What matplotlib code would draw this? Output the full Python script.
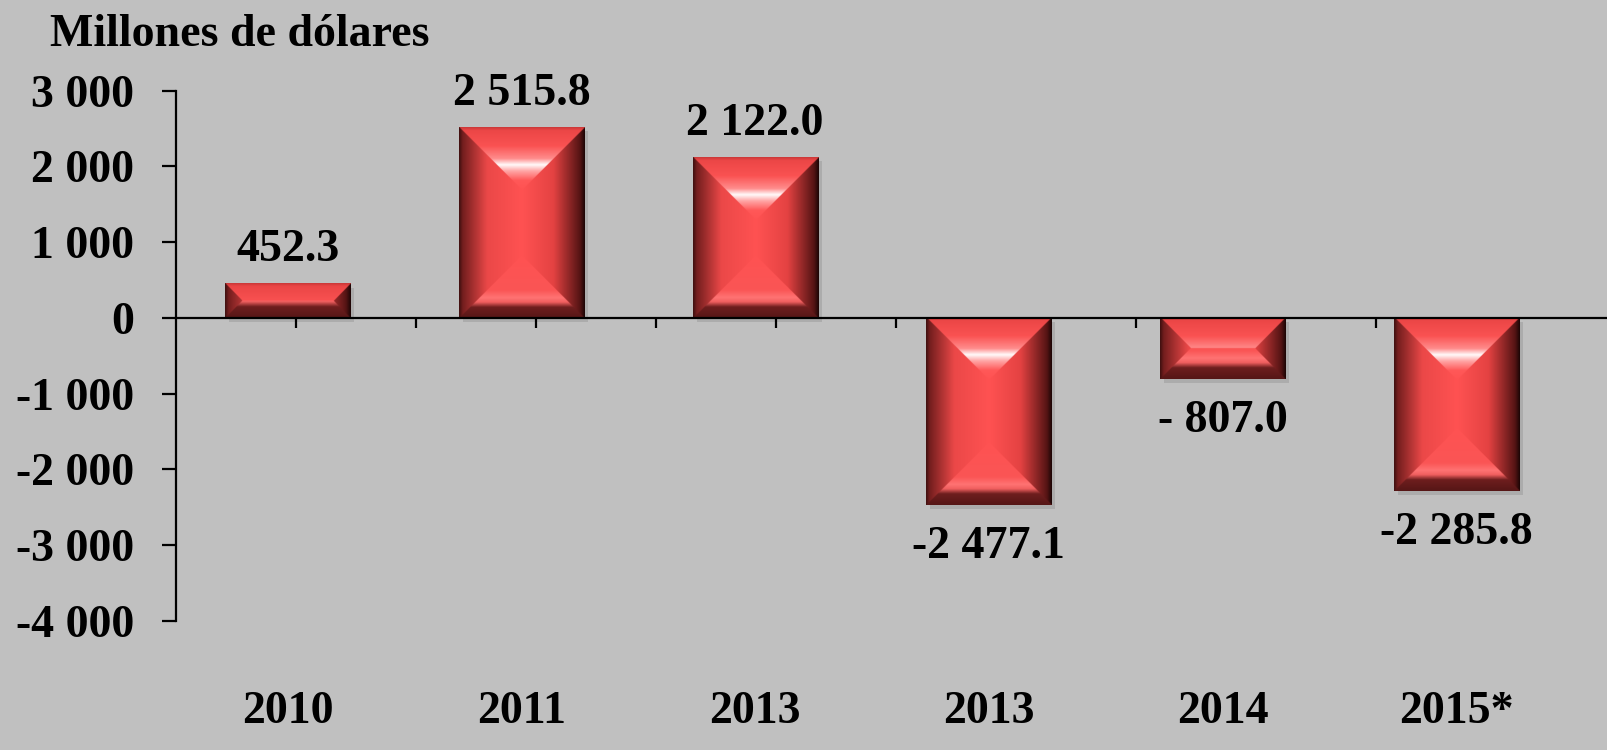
import numpy as np
import matplotlib
matplotlib.use("Agg")
import matplotlib.pyplot as plt
from matplotlib.transforms import blended_transform_factory
from matplotlib.patches import Rectangle

# datos
categorias = ["2010", "2011", "2013", "2013", "2014", "2015*"]
valores = [452.3, 2515.8, 2122.0, -2477.1, -807.0, -2285.8]
etiquetas = ["452.3", "2 515.8", "2 122.0", "-2 477.1", "- 807.0", "-2 285.8"]
yticks = [3000, 2000, 1000, 0, -1000, -2000, -3000, -4000]
yticklabels = ["3 000", "2 000", "1 000", "0", "-1 000", "-2 000", "-3 000", "-4 000"]

plt.rcParams["font.family"] = ["Liberation Serif", "DejaVu Serif"]
plt.rcParams["font.weight"] = "bold"
FS = 33
FONDO = "#c0c0c0"

fig = plt.figure(figsize=(16.08, 7.5), dpi=100, facecolor=FONDO)
ax = fig.add_axes([176 / 1608, 1 - 620.7 / 750, 1 - 176 / 1608, 530 / 750])
ax.set_facecolor(FONDO)
ax.set_xlim(-0.477, 5.648)
ax.set_ylim(-4000, 3000)


def rampa(t, puntos, colores):
    colores = np.array(colores, dtype=float) / 255.0
    return np.stack([np.interp(t, puntos, colores[:, k]) for k in range(3)], axis=-1)


def barra_biselada(ax, x0, x1, y0, y1):
    # tamaño en pixeles
    p0 = ax.transData.transform((x0, y0))
    p1 = ax.transData.transform((x1, y1))
    pw = abs(p1[0] - p0[0])
    ph = abs(p1[1] - p0[1])
    esc = 2
    nw, nh = max(int(pw * esc), 2), max(int(ph * esc), 2)
    xs = (np.arange(nw) + 0.5) / esc
    ys = (np.arange(nh) + 0.5) / esc
    X, Y = np.meshgrid(xs, ys)
    dl, dr, dt, db = X, pw - X, Y, ph - Y
    b = pw / 2.0
    dist = np.stack([dl, dr, dt, db])
    cara = np.argmin(dist, axis=0)

    izq = rampa(dl / b, [0, 0.06, 0.45, 1], [(60, 15, 15), (115, 30, 30), (235, 72, 72), (255, 82, 82)])
    der = rampa(dr / b, [0, 0.08, 0.5, 1], [(25, 5, 5), (85, 20, 20), (228, 66, 66), (255, 82, 82)])
    arr = rampa(dt / b, [0, 0.05, 0.3, 0.5, 0.6, 0.7, 0.85, 1],
                [(200, 55, 55), (235, 70, 70), (250, 82, 82), (255, 140, 140),
                 (255, 250, 250), (255, 165, 165), (255, 88, 88), (255, 82, 82)])
    aba = rampa(db / b, [0, 0.18, 0.26, 0.33, 0.45, 1],
                [(85, 22, 22), (110, 30, 30), (240, 95, 95), (255, 115, 115), (250, 85, 85), (255, 82, 82)])
    img = np.where((cara == 0)[..., None], izq,
          np.where((cara == 1)[..., None], der,
          np.where((cara == 2)[..., None], arr, aba)))

    # sombra
    dx = 4 * (x1 - x0) / pw
    dy = 4 * (y1 - y0) / ph
    ax.add_patch(Rectangle((x0 + dx, y0 - dy), x1 - x0, y1 - y0, facecolor="#999999",
                           edgecolor="none", alpha=0.5, zorder=1))
    ax.imshow(img, extent=(x0, x1, y0, y1), origin="upper", aspect="auto",
              interpolation="bilinear", zorder=2)


ancho = 0.535
for i, v in enumerate(valores):
    barra_biselada(ax, i - ancho / 2, i + ancho / 2, min(v, 0), max(v, 0))
    if v >= 0:
        ax.annotate(etiquetas[i], (i, v), xytext=(0, 24), textcoords="offset points",
                    ha="center", va="center", fontsize=FS, fontweight="bold")
    else:
        ax.annotate(etiquetas[i], (i, v), xytext=(0, -30), textcoords="offset points",
                    ha="center", va="center", fontsize=FS, fontweight="bold")

ax.set_xlim(-0.477, 5.648)
ax.set_ylim(-4000, 3000)

# ejes
for s in ["top", "right"]:
    ax.spines[s].set_visible(False)
ax.spines["bottom"].set_position(("data", 0))
ax.spines["left"].set_linewidth(1.6)
ax.spines["bottom"].set_linewidth(1.6)
ax.spines["left"].set_zorder(3)
ax.spines["bottom"].set_zorder(3)

ax.set_yticks(yticks)
ax.set_yticklabels(yticklabels, fontsize=FS, fontweight="bold")
ax.tick_params(axis="y", direction="out", length=10, width=1.6, pad=20)
ax.set_xticks(0.035 + 0.5133 * np.arange(11))
ax.set_xticklabels([])
ax.tick_params(axis="x", direction="out", length=7.5, width=1.6)

# etiquetas de categorias abajo
tr = blended_transform_factory(ax.transData, fig.transFigure)
for i, c in enumerate(categorias):
    ax.text(i, 1 - 712 / 750, c, transform=tr, ha="center", va="center",
            fontsize=FS, fontweight="bold", clip_on=False)

fig.text(50 / 1608, 1 - 35 / 750, "Millones de dólares", ha="left", va="center",
         fontsize=FS, fontweight="bold")

fig.savefig("out.png", dpi=100, facecolor=FONDO)
